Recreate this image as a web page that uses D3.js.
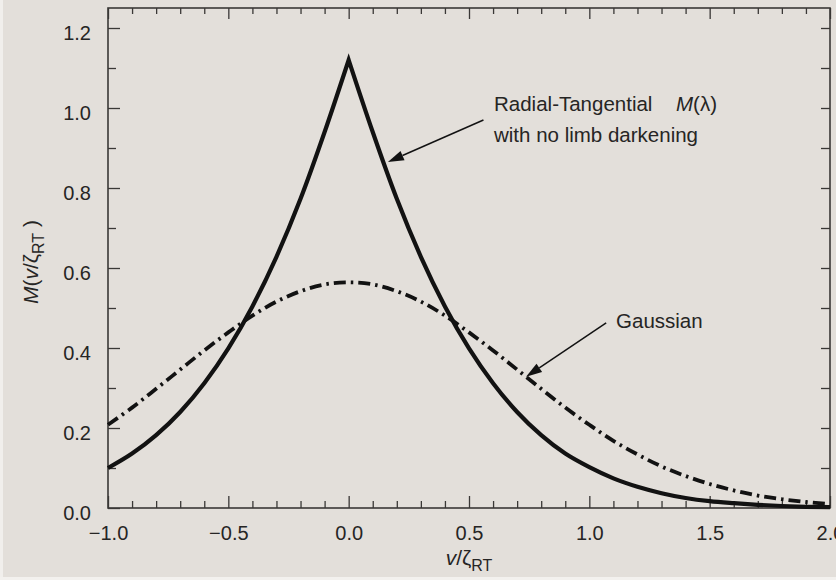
<!DOCTYPE html>
<html><head><meta charset="utf-8">
<script src="https://cdn.jsdelivr.net/npm/d3@7"></script>
<style>
html,body{margin:0;padding:0;background:#e3dfda;}
svg{display:block;font-family:"Liberation Sans",Arial,Helvetica,sans-serif;}
</style>
</head><body>
<svg id="chart" width="836" height="580"></svg>
<script>
// ---- data ----
const xValues = [-1.0,-0.9,-0.8,-0.7,-0.6,-0.5,-0.4,-0.3,-0.2,-0.1,0.0,
                 0.1,0.2,0.3,0.4,0.5,0.6,0.7,0.8,0.9,1.0,
                 1.1,1.2,1.3,1.4,1.5,1.6,1.7,1.8,1.9,2.0];
const radialTangential = [0.100,0.136,0.182,0.240,0.312,0.399,0.504,0.628,0.773,0.940,1.120,
                          0.940,0.773,0.628,0.504,0.399,0.312,0.240,0.182,0.136,0.102,
                          0.074,0.053,0.037,0.025,0.017,0.012,0.008,0.005,0.003,0.002];
const gaussian = [0.208,0.251,0.298,0.346,0.394,0.439,0.481,0.516,0.542,0.559,0.564,
                  0.559,0.542,0.516,0.481,0.439,0.394,0.346,0.298,0.251,0.208,
                  0.168,0.134,0.104,0.080,0.060,0.044,0.031,0.022,0.015,0.010];
const xMajorTicks = [-1.0,-0.5,0.0,0.5,1.0,1.5,2.0];
const xTickLabels = ["\u22121.0","\u22120.5","0.0","0.5","1.0","1.5","2.0"];
const yMajorTicks = [0.0,0.2,0.4,0.6,0.8,1.0,1.2];
const yTickLabels = ["0.0","0.2","0.4","0.6","0.8","1.0","1.2"];
const annotationLabels = [
  {lines:["Radial-Tangential", "with no limb darkening"], x:0.604, y:0.9925, arrowFrom:[0.56,0.97], arrowTo:[0.163,0.865]},
  {lines:["Gaussian"], x:1.111, y:0.45, arrowFrom:[1.07,0.463], arrowTo:[0.737,0.328]}
];

// ---- layout ----
const svg = d3.select("#chart");
const W = 836, H = 580;
const x = d3.scaleLinear().domain([-1, 2]).range([108, 830]);
const y = d3.scaleLinear().domain([0, 1.25]).range([508, 8]);
const axisColor = "#3a3836", textColor = "#262524", inkColor = "#121212";

svg.append("rect").attr("width", W).attr("height", H).attr("fill", "#e3dfda");
svg.append("rect").attr("x",0).attr("y",0).attr("width",3).attr("height",H).attr("fill","#f1efec");
svg.append("rect").attr("x",0).attr("y",577).attr("width",W).attr("height",3).attr("fill","#f3f1ee");

// ticks
const minorX = d3.range(-10, 21).map(d => d/10).filter(d => Math.abs(d*2 - Math.round(d*2)) > 1e-6);
const minorY = d3.range(1, 13).map(d => d/10).filter(d => Math.abs(d*5 - Math.round(d*5)) > 1e-6);
const allY = d3.range(1, 13).map(d => d/10);

function styleAxis(g){
  g.select(".domain").remove();
  g.selectAll("line").attr("stroke", axisColor).attr("stroke-width", 1.3);
  g.selectAll("text").attr("fill", textColor);
}
// bottom
svg.append("g").attr("transform","translate(0,508)")
  .call(d3.axisBottom(x).tickValues(minorX).tickSize(-7).tickFormat("")).call(styleAxis);
const bx = svg.append("g").attr("transform","translate(0,508)")
  .call(d3.axisBottom(x).tickValues(xMajorTicks).tickSize(-12).tickFormat((d,i)=>xTickLabels[i]));
styleAxis(bx);
bx.selectAll("text").attr("y", 18).attr("font-size", 20).attr("font-family","'Liberation Sans',Arial,sans-serif");
// top
svg.append("g").attr("transform","translate(0,8)")
  .call(d3.axisTop(x).tickValues(minorX).tickSize(-6).tickFormat("")).call(styleAxis);
svg.append("g").attr("transform","translate(0,8)")
  .call(d3.axisTop(x).tickValues(xMajorTicks).tickSize(-11).tickFormat("")).call(styleAxis);
// left
svg.append("g").attr("transform","translate(108,0)")
  .call(d3.axisLeft(y).tickValues(minorY).tickSize(-8).tickFormat("")).call(styleAxis);
const ly = svg.append("g").attr("transform","translate(108,0)")
  .call(d3.axisLeft(y).tickValues(yMajorTicks).tickSize(-12).tickFormat((d,i)=>yTickLabels[i]));
styleAxis(ly);
ly.selectAll("text").attr("x", -17).attr("dy","0.32em").attr("transform","translate(0,5)")
  .attr("font-size", 20).attr("font-family","'Liberation Sans',Arial,sans-serif");
// right
svg.append("g").attr("transform","translate(830,0)")
  .call(d3.axisRight(y).tickValues(allY).tickSize(-9).tickFormat("")).call(styleAxis);

// frame
svg.append("rect").attr("x", x(-1)).attr("y", y(1.25))
  .attr("width", x(2)-x(-1)).attr("height", y(0)-y(1.25))
  .attr("fill","none").attr("stroke", axisColor).attr("stroke-width", 1.6);

// curves
const pts = (vals) => xValues.map((xv,i)=>[xv, vals[i]]);
const rtPts = pts(radialTangential);
const lineMono = d3.line().x(d=>x(d[0])).y(d=>y(d[1])).curve(d3.curveMonotoneX);
const leftBranch = rtPts.filter(d => d[0] <= 0);
const rightBranch = rtPts.filter(d => d[0] >= 0);
const rtPath = lineMono(leftBranch) + "L" + lineMono(rightBranch).slice(1);
svg.append("path").attr("d", rtPath).attr("fill","none").attr("stroke", inkColor)
  .attr("stroke-width", 4.2).attr("stroke-linejoin","miter").attr("stroke-miterlimit", 20);

svg.append("path").datum(pts(gaussian))
  .attr("d", d3.line().x(d=>x(d[0])).y(d=>y(d[1])).curve(d3.curveCatmullRom.alpha(0.5)))
  .attr("fill","none").attr("stroke", inkColor).attr("stroke-width", 3.8)
  .attr("stroke-dasharray","12,5,2.5,5");

// annotations
annotationLabels.forEach(a => {
  const t = svg.append("text").attr("x", x(a.x)).attr("y", y(a.y))
    .attr("font-size", 20.5).attr("fill", textColor);
  a.lines.forEach((ln,i) => {
    t.append("tspan").attr("x", x(a.x)).attr("dy", i === 0 ? 0 : 31).text(ln);
  });
  const x0 = x(a.arrowFrom[0]), y0 = y(a.arrowFrom[1]);
  const x1 = x(a.arrowTo[0]), y1 = y(a.arrowTo[1]);
  const dx = x1-x0, dy = y1-y0, L = Math.hypot(dx,dy), ux = dx/L, uy = dy/L;
  const hl = 16, hw = 5;
  const bxp = x1 - ux*hl, byp = y1 - uy*hl;
  svg.append("line").attr("x1",x0).attr("y1",y0).attr("x2",bxp).attr("y2",byp)
    .attr("stroke", inkColor).attr("stroke-width", 1.5);
  svg.append("path").attr("d", `M${x1},${y1}L${bxp - uy*hw},${byp + ux*hw}L${bxp + uy*hw},${byp - ux*hw}Z`)
    .attr("fill", inkColor);
});
// M(λ) after first annotation label
svg.append("text").attr("x", x(0.604) + 182).attr("y", y(0.9925)).attr("font-size", 20.5).attr("fill", textColor)
  .call(t => { t.append("tspan").attr("font-style","italic").text("M"); t.append("tspan").text("(\u03BB)"); });

// axis titles
const xt = svg.append("text").attr("x", 469).attr("y", 565).attr("text-anchor","middle")
  .attr("font-size", 21).attr("fill", textColor);
xt.append("tspan").attr("font-style","italic").text("v");
xt.append("tspan").text("/\u03B6");
xt.append("tspan").attr("font-size", 16).attr("dy", 6).text("RT");

const yt = svg.append("text").attr("transform","translate(38,262) rotate(-90)").attr("text-anchor","middle")
  .attr("font-size", 21).attr("fill", textColor);
yt.append("tspan").attr("font-style","italic").text("M");
yt.append("tspan").text("(");
yt.append("tspan").attr("font-style","italic").text("v");
yt.append("tspan").text("/\u03B6");
yt.append("tspan").attr("font-size", 16).attr("dy", 6).text("RT");
yt.append("tspan").attr("dy", -6).text(" )");
</script>
</body></html>
